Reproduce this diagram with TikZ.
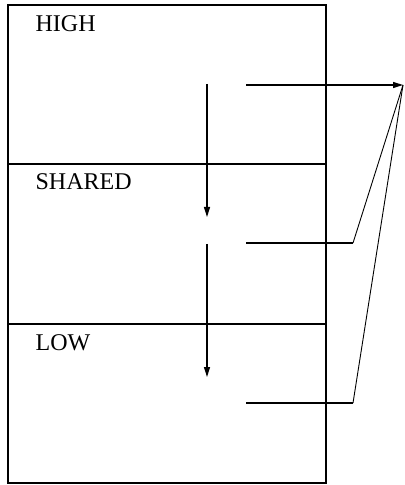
\documentclass[tikz,border=0pt]{standalone}
\usepackage{fontspec}
\setmainfont{Liberation Serif}
\usetikzlibrary{arrows.meta, positioning}

\begin{document}
\begin{tikzpicture}[
            x=0.5pt, y=-0.5pt,
            >={Triangle[length=5pt,width=3pt]},
            line width=0.65pt,
            region/.style={anchor=base west, inner sep=0pt, font=\fontsize{12}{14}\selectfont}
        ]
        \useasboundingbox (0,0) rectangle (404,485);

        % Define regions
        \draw[line width=1pt] (8,5) rectangle (326,483);
        \draw (8,164) -- (326,164);
        \draw (8,324) -- (326,324);
        \node[region] (high) at (35,32) {HIGH};
        \node[region] (shared) at (35,190) {SHARED};
        \node[region] (low) at (35,350) {LOW};

        % Define end points
        \coordinate (hightop) at (207,84);
        \coordinate (highbot) at (207,217);
        \coordinate (sharedtop) at (207,244);
        \coordinate (sharedbot) at (207,377);
        \coordinate (highout) at (246,85);
        \coordinate (sharedout) at (246,243);
        \coordinate (lowout) at (246,403);
        \coordinate (sharedbend) at (353,243);
        \coordinate (lowbend) at (353,403);
        \coordinate (target) at (403,85);

        % Draw transitions
        \draw[->] (hightop) -- (highbot);
        \draw[->] (sharedtop) -- (sharedbot);
        \draw[->] (highout) -- (target);
        \draw (sharedout) -- (sharedbend);
        \draw[line width=0.45pt] (sharedbend) -- (target);
        \draw (lowout) -- (lowbend);
        \draw[line width=0.45pt] (lowbend) -- (target);
        \end{tikzpicture}
\end{document}
